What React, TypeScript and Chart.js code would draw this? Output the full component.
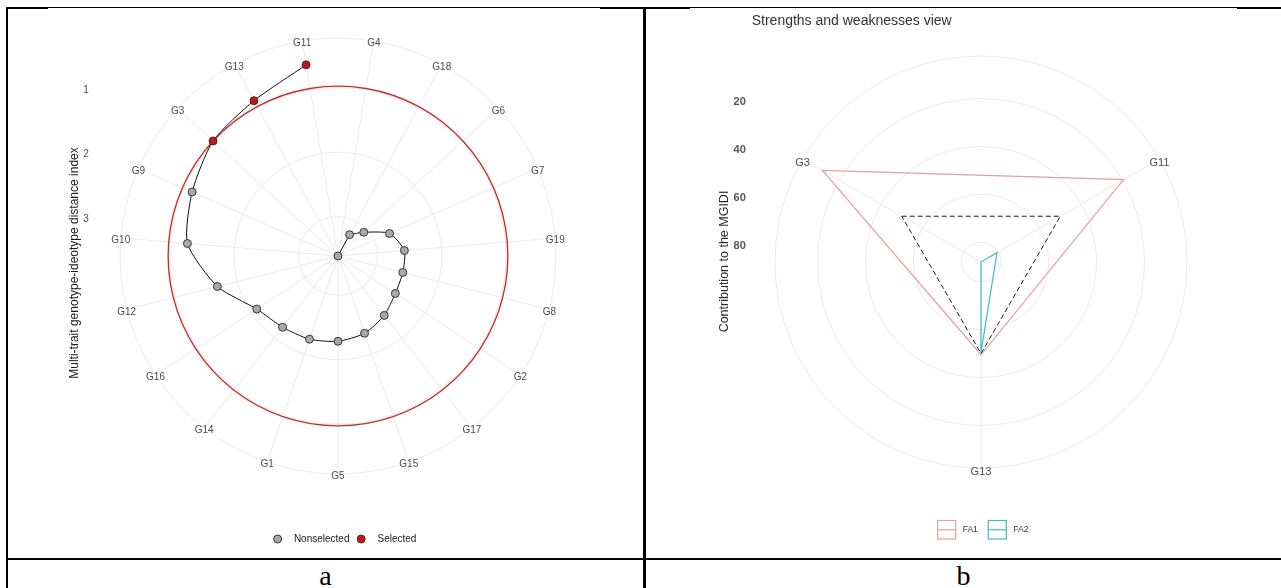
import React, { useEffect, useRef } from 'react';
import { Chart, registerables } from 'chart.js';

Chart.register(...registerables);

// ---------- Panel a: MGIDI spiral ----------
const genotypes = ['G11', 'G4', 'G18', 'G6', 'G7', 'G19', 'G8', 'G2', 'G17', 'G15', 'G5', 'G1', 'G14', 'G16', 'G12', 'G10', 'G9', 'G3', 'G13'];
const mgidi = [0.605, 3.611, 3.235, 3.068, 2.739, 2.578, 2.574, 2.549, 2.443, 2.344, 2.288, 2.247, 2.211, 2.106, 1.681, 1.267, 1.14, 0.976, 0.872];
const selectedGenotypes = ['G11', 'G13', 'G3'];
const cutPoint = 0.976;
const mgidiTicks = [1, 2, 3];
const legendA = ['Nonselected', 'Selected'];
const axisTitleA = 'Multi-trait genotype-ideotype distance index';

// ---------- Panel b: strengths and weaknesses ----------
const selLabels = ['G3', 'G11', 'G13'];
const fa1 = [11.8, 19.5, 49.5];
const fa2 = [88.2, 80.5, 50.5];
const expected = [50, 50, 50];
const contribTicks = [20, 40, 60, 80];
const factorNames = ['FA1', 'FA2'];
const titleB = 'Strengths and weaknesses view';
const axisTitleB = 'Contribution to the MGIDI';

const FONT = '"Liberation Sans", Arial, Helvetica, sans-serif';
const GRID = '#EBEBEB';
const GREY_PT = '#A8A8A8';
const RED_PT = '#CC1414';
const RED_LINE = '#C8302E';
const FA1_COL = '#E0A29D';
const FA2_COL = '#3FBDBB';

// ggplot polar convention: data range uses 0.4 of the 0.45 outer radius
function polarLimits(values: number[]) {
  const hi = Math.max(...values);
  const lo = Math.min(...values);
  return { hi, min: hi - ((hi - lo) * 0.45) / 0.4 };
}

const limA = polarLimits(mgidi);
const limB = polarLimits([...fa1, ...fa2]);
const maxIdx = mgidi.indexOf(limA.hi);

function drawPointMarker(ctx: CanvasRenderingContext2D, x: number, y: number, fill: string) {
  ctx.beginPath();
  ctx.arc(x, y, 4, 0, Math.PI * 2);
  ctx.fillStyle = fill;
  ctx.fill();
  ctx.lineWidth = 0.9;
  ctx.strokeStyle = '#2B2B2B';
  ctx.stroke();
}

const decorA = {
  id: 'decorA',
  afterDraw(chart: any) {
    const ctx: CanvasRenderingContext2D = chart.ctx;
    const s = chart.scales.r;
    const dy = 2.5;
    ctx.save();
    ctx.textAlign = 'center';
    ctx.textBaseline = 'middle';
    ctx.fillStyle = '#4D4D4D';
    ctx.font = `10px ${FONT}`;
    genotypes.forEach((g, i) => {
      const p = s.getPointPosition(i, s.drawingArea);
      ctx.fillText(g, p.x, p.y + dy);
    });
    mgidiTicks.forEach((v) => {
      ctx.fillText(String(v), 86, s.yCenter - s.getDistanceFromCenterForValue(v) + dy);
    });
    ctx.save();
    ctx.translate(75, 263);
    ctx.rotate(-Math.PI / 2);
    ctx.font = `12px ${FONT}`;
    ctx.fillStyle = '#1A1A1A';
    ctx.fillText(axisTitleA, 0, 0);
    ctx.restore();
    // legend
    const ly = 539;
    const xs = [277.6, 361.2];
    const cols = [GREY_PT, RED_PT];
    ctx.textAlign = 'left';
    ctx.font = `10px ${FONT}`;
    legendA.forEach((lab, i) => {
      drawPointMarker(ctx, xs[i], ly, cols[i]);
      ctx.fillStyle = '#1A1A1A';
      ctx.fillText(lab, xs[i] + 16.3, ly + 0.5);
    });
    ctx.restore();
  },
};

const decorB = {
  id: 'decorB',
  afterDraw(chart: any) {
    const ctx: CanvasRenderingContext2D = chart.ctx;
    const s = chart.scales.r;
    ctx.save();
    ctx.textAlign = 'center';
    ctx.textBaseline = 'middle';
    ctx.fillStyle = '#4D4D4D';
    ctx.font = `11px ${FONT}`;
    selLabels.forEach((g, i) => {
      const p = s.getPointPosition(i, s.drawingArea);
      ctx.fillText(g, p.x, p.y + 4);
    });
    ctx.font = `bold 11px ${FONT}`;
    ctx.fillStyle = '#555555';
    contribTicks.forEach((v) => {
      ctx.fillText(String(v), 95.7, s.yCenter - s.getDistanceFromCenterForValue(v) + 3.5);
    });
    // title
    ctx.textAlign = 'left';
    ctx.font = `14px ${FONT}`;
    ctx.fillStyle = '#333333';
    ctx.fillText(titleB, 107.7, 21);
    // axis title
    ctx.save();
    ctx.translate(80.6, 261.5);
    ctx.rotate(-Math.PI / 2);
    ctx.textAlign = 'center';
    ctx.font = `12.5px ${FONT}`;
    ctx.fillStyle = '#2A2A2A';
    ctx.fillText(axisTitleB, 0, 0);
    ctx.restore();
    // legend
    const cols = [FA1_COL, FA2_COL];
    const bx = [293.7, 344.3];
    const by = 520.5;
    ctx.font = `8.5px ${FONT}`;
    factorNames.forEach((n, i) => {
      ctx.strokeStyle = cols[i];
      ctx.lineWidth = 1.2;
      ctx.strokeRect(bx[i], by, 18, 18.5);
      ctx.beginPath();
      ctx.moveTo(bx[i], by + 9.25);
      ctx.lineTo(bx[i] + 18, by + 9.25);
      ctx.stroke();
      ctx.fillStyle = '#333333';
      ctx.fillText(n, bx[i] + 25, by + 9.5);
    });
    ctx.restore();
  },
};

function makeConfigA(): any {
  return {
    type: 'radar',
    data: {
      labels: genotypes,
      datasets: [
        {
          label: 'points',
          data: mgidi,
          showLine: false,
          fill: false,
          borderWidth: 0,
          pointRadius: 4,
          pointBorderWidth: 0.9,
          pointBorderColor: '#2B2B2B',
          pointBackgroundColor: genotypes.map((g) => (selectedGenotypes.includes(g) ? RED_PT : GREY_PT)),
        },
        {
          label: 'path',
          data: mgidi.map((v, i) => (i === maxIdx ? null : v)),
          fill: false,
          spanGaps: false,
          borderColor: '#111111',
          borderWidth: 1,
          tension: 0.22,
          pointRadius: 0,
        },
        {
          label: 'link',
          data: mgidi.map((v, i) => (i === maxIdx || i === maxIdx + 1 ? v : null)),
          fill: false,
          spanGaps: false,
          borderColor: '#111111',
          borderWidth: 1,
          tension: 0,
          pointRadius: 0,
        },
        {
          label: 'cut',
          data: genotypes.map(() => cutPoint),
          fill: false,
          borderColor: RED_LINE,
          borderWidth: 1.4,
          tension: 0.34,
          pointRadius: 0,
        },
      ],
    },
    options: {
      animation: false,
      responsive: true,
      maintainAspectRatio: false,
      layout: { padding: { left: 120, right: 88, top: 38, bottom: 84 } },
      plugins: { legend: { display: false }, tooltip: { enabled: false } },
      scales: {
        r: {
          min: limA.min,
          max: limA.hi,
          reverse: true,
          startAngle: -180 / genotypes.length,
          grid: { circular: true, color: GRID, lineWidth: 1 },
          angleLines: { display: true, color: GRID, lineWidth: 1 },
          pointLabels: { display: false },
          ticks: { display: false },
          afterBuildTicks: (sc: any) => {
            sc.ticks = [limA.hi, ...[...mgidiTicks].reverse(), limA.min].map((v) => ({ value: v }));
          },
        },
      },
    },
    plugins: [decorA],
  };
}

function makeConfigB(): any {
  return {
    type: 'radar',
    data: {
      labels: selLabels,
      datasets: [
        { label: 'expected', data: expected, fill: false, borderColor: '#1A1A1A', borderWidth: 1, borderDash: [5, 3], pointRadius: 0, tension: 0 },
        { label: factorNames[1], data: fa2, fill: false, borderColor: FA2_COL, borderWidth: 1.2, pointRadius: 0, tension: 0 },
        { label: factorNames[0], data: fa1, fill: false, borderColor: FA1_COL, borderWidth: 1.2, pointRadius: 0, tension: 0 },
      ],
    },
    options: {
      animation: false,
      responsive: true,
      maintainAspectRatio: false,
      layout: { padding: { left: 131, right: 94, top: 56, bottom: 90 } },
      plugins: { legend: { display: false }, tooltip: { enabled: false } },
      scales: {
        r: {
          min: limB.min,
          max: limB.hi,
          reverse: true,
          startAngle: -180 / selLabels.length,
          grid: { circular: true, color: GRID, lineWidth: 1 },
          angleLines: { display: true, color: GRID, lineWidth: 1 },
          pointLabels: { display: false },
          ticks: { display: false },
          afterBuildTicks: (sc: any) => {
            sc.ticks = [limB.hi, ...[...contribTicks].reverse(), limB.min].map((v) => ({ value: v }));
          },
        },
      },
    },
    plugins: [decorB],
  };
}

function ChartBox({ makeConfig, style }: { makeConfig: () => any; style: React.CSSProperties }) {
  const ref = useRef<HTMLCanvasElement>(null);
  useEffect(() => {
    const chart = new Chart(ref.current as HTMLCanvasElement, makeConfig());
    return () => chart.destroy();
  }, []);
  return (
    <div style={{ position: 'absolute', ...style }}>
      <canvas ref={ref} />
    </div>
  );
}

const line = (s: React.CSSProperties) => <div style={{ position: 'absolute', background: '#000', ...s }} />;

export default function App() {
  return (
    <div style={{ position: 'absolute', left: 0, top: 0, width: 1281, height: 588, background: '#fff', overflow: 'hidden' }}>
      <ChartBox makeConfig={makeConfigA} style={{ left: 0, top: 0, width: 644, height: 558 }} />
      <ChartBox makeConfig={makeConfigB} style={{ left: 644, top: 0, width: 637, height: 558 }} />
      {line({ left: 6, top: 7, width: 1275, height: 1 })}
      {line({ left: 6, top: 8, width: 42, height: 1 })}
      {line({ left: 600, top: 8, width: 90, height: 1 })}
      {line({ left: 1237, top: 8, width: 44, height: 1 })}
      {line({ left: 6, top: 7, width: 2, height: 581 })}
      {line({ left: 643, top: 7, width: 3, height: 581 })}
      {line({ left: 6, top: 558, width: 1275, height: 2 })}
      <div style={{ position: 'absolute', left: 8, top: 562, width: 635, textAlign: 'center', font: '28px "Liberation Serif", "Times New Roman", serif', lineHeight: '28px', color: '#000' }}>a</div>
      <div style={{ position: 'absolute', left: 646, top: 562, width: 635, textAlign: 'center', font: '28px "Liberation Serif", "Times New Roman", serif', lineHeight: '28px', color: '#000' }}>b</div>
    </div>
  );
}
